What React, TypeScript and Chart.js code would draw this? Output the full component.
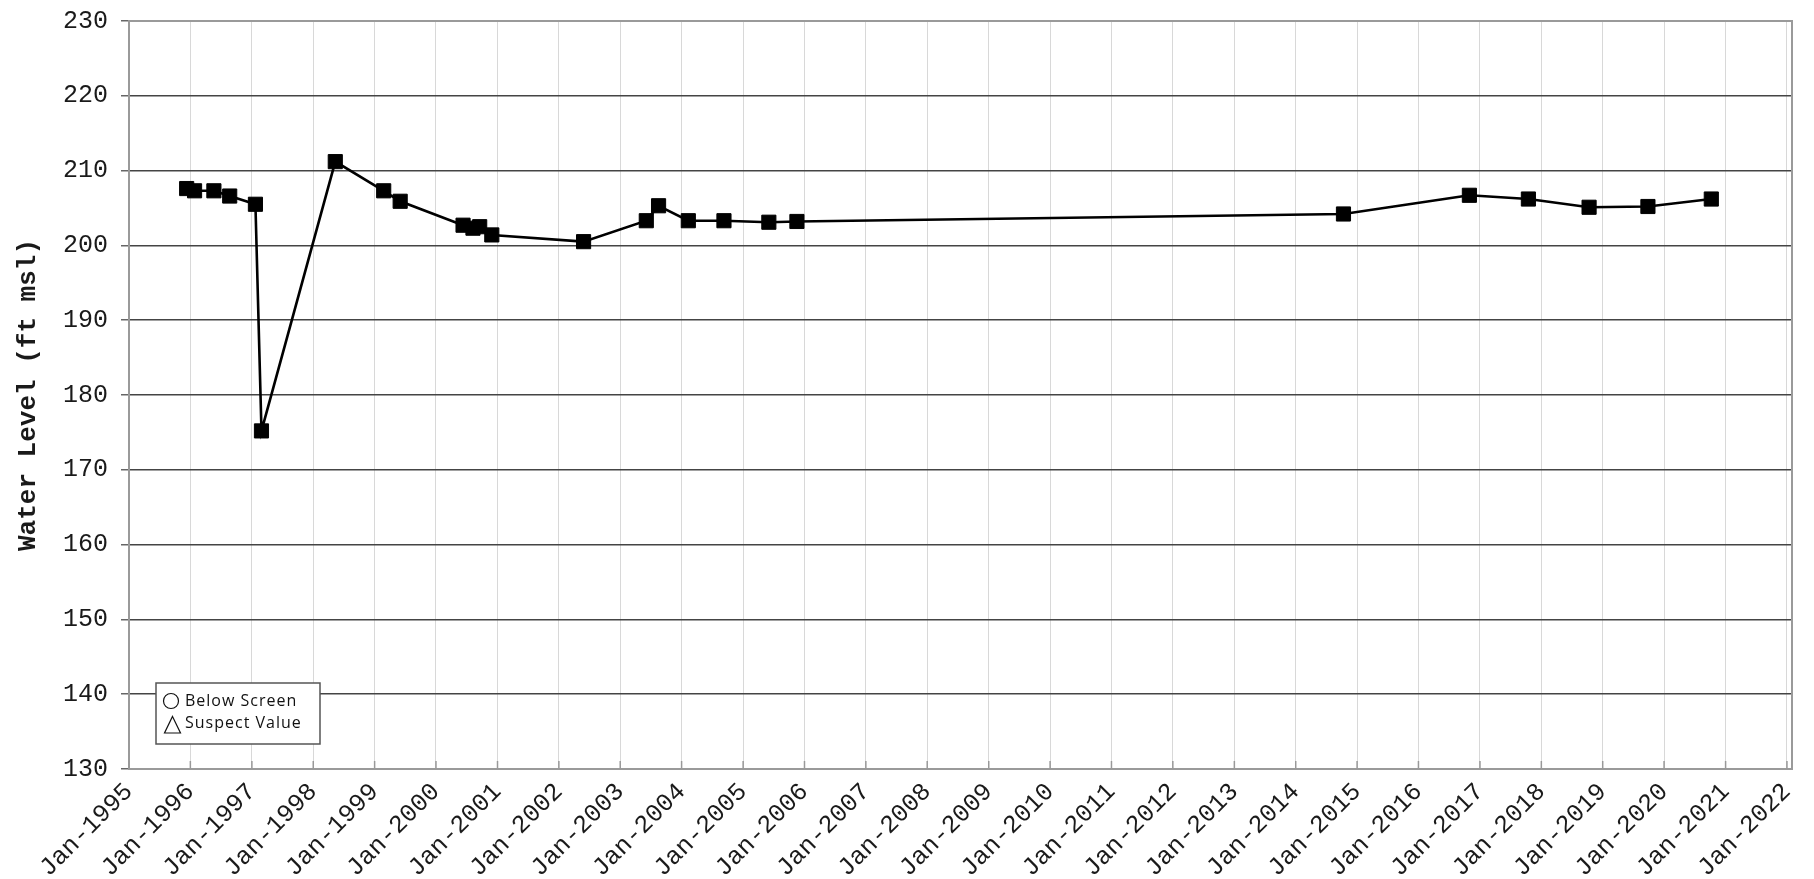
import React, { useEffect, useRef } from "react";
import { Chart, registerables } from "chart.js";

Chart.register(...registerables);

// ---- Data ----
const sampleDates: string[] = [
  "1995-12-10", "1996-01-26", "1996-05-20", "1996-08-22", "1997-01-22",
  "1997-02-27", "1998-05-12", "1999-02-24", "1999-06-02", "2000-06-10",
  "2000-08-08", "2000-09-17", "2000-11-28", "2002-05-28", "2003-06-05",
  "2003-08-17", "2004-02-10", "2004-09-09", "2005-06-03", "2005-11-17",
  "2014-10-12", "2016-10-30", "2017-10-16", "2018-10-12", "2019-09-27",
  "2020-10-08",
];
const waterLevels: number[] = [
  207.6, 207.3, 207.3, 206.6, 205.5,
  175.2, 211.2, 207.3, 205.9, 202.7,
  202.3, 202.5, 201.4, 200.5, 203.3,
  205.3, 203.3, 203.3, 203.1, 203.2,
  204.2, 206.7, 206.2, 205.1, 205.2,
  206.2,
];
const tickYears: number[] = [
  1995, 1996, 1997, 1998, 1999, 2000, 2001, 2002, 2003, 2004, 2005, 2006, 2007, 2008,
  2009, 2010, 2011, 2012, 2013, 2014, 2015, 2016, 2017, 2018, 2019, 2020, 2021, 2022,
];
const yAxisTitle = "Water Level (ft msl)";
const legendLabels: string[] = ["Below Screen", "Suspect Value"];
const yMin = 130;
const yMax = 230;
const yStep = 10;

const toTime = (s: string): number => {
  const [y, m, d] = s.split("-").map(Number);
  return Date.UTC(y, m - 1, d);
};

const MONO = '"Liberation Mono", "DejaVu Sans Mono", monospace';

const framePlugin = {
  id: "frameAndTicks",
  beforeDatasetsDraw(chart: any) {
    const { ctx, chartArea } = chart;
    const { left, top, right, bottom } = chartArea;
    ctx.save();
    const xs = chart.scales.x;
    ctx.strokeStyle = "#999";
    ctx.lineWidth = 1.5;
    xs.ticks.forEach((t: any) => {
      const px = xs.getPixelForValue(t.value);
      ctx.beginPath();
      ctx.moveTo(px, bottom);
      ctx.lineTo(px, bottom - 8);
      ctx.stroke();
    });
    ctx.strokeStyle = "#9a9a9a";
    ctx.lineWidth = 2;
    ctx.beginPath();
    ctx.moveTo(left, top);
    ctx.lineTo(right, top);
    ctx.lineTo(right, bottom);
    ctx.stroke();
    ctx.restore();
  },
};

const legendPlugin = {
  id: "symbolLegend",
  afterDatasetsDraw(chart: any) {
    const { ctx, chartArea } = chart;
    const bx = chartArea.left + 27;
    const by = chartArea.bottom - 86;
    const bw = 164;
    const bh = 61;
    ctx.save();
    ctx.fillStyle = "#fff";
    ctx.fillRect(bx, by, bw, bh);
    ctx.strokeStyle = "#555";
    ctx.lineWidth = 1.5;
    ctx.strokeRect(bx, by, bw, bh);

    ctx.strokeStyle = "#111";
    ctx.lineWidth = 1.2;
    ctx.beginPath();
    ctx.arc(bx + 15, by + 18, 7.5, 0, Math.PI * 2);
    ctx.stroke();
    ctx.beginPath();
    ctx.moveTo(bx + 16.5, by + 33.5);
    ctx.lineTo(bx + 24.5, by + 50);
    ctx.lineTo(bx + 8.5, by + 50);
    ctx.closePath();
    ctx.stroke();

    ctx.fillStyle = "#111";
    ctx.font = '16px "Open Sans", "Noto Sans", sans-serif';
    try {
      (ctx as any).letterSpacing = "1px";
    } catch (e) {}
    ctx.textAlign = "left";
    ctx.textBaseline = "middle";
    ctx.fillText(legendLabels[0], bx + 29, by + 18);
    ctx.fillText(legendLabels[1], bx + 29, by + 40);
    ctx.restore();
  },
};

export default function App() {
  const canvasRef = useRef<HTMLCanvasElement | null>(null);

  useEffect(() => {
    if (!canvasRef.current) return;
    const points = sampleDates.map((d, i) => ({ x: toTime(d), y: waterLevels[i] }));
    const xMin = Date.UTC(tickYears[0], 0, 1);
    const xMax = Date.UTC(tickYears[tickYears.length - 1], 0, 31);

    const chart = new Chart(canvasRef.current, {
      type: "line",
      data: {
        datasets: [
          {
            label: "Water Level",
            data: points,
            borderColor: "#000",
            backgroundColor: "#000",
            borderWidth: 2.6,
            tension: 0,
            pointStyle: "rect",
            pointRadius: 10,
            pointBorderWidth: 1,
            pointBackgroundColor: "#000",
            pointBorderColor: "#000",
          },
        ],
      },
      options: {
        animation: false,
        responsive: false,
        layout: { padding: { left: 0, top: 21, right: 22, bottom: 0 } },
        plugins: {
          legend: { display: false },
          tooltip: { enabled: false },
          title: { display: false },
        },
        scales: {
          x: {
            type: "linear",
            min: xMin,
            max: xMax,
            afterBuildTicks: (scale: any) => {
              scale.ticks = tickYears.map((y) => ({ value: Date.UTC(y, 0, 1) }));
            },
            afterFit: (scale: any) => {
              scale.height = 110;
              scale.paddingLeft = 0;
              scale.paddingRight = 0;
            },
            grid: { color: "#d8d8d8", lineWidth: 1, drawTicks: false },
            border: { color: "#9a9a9a", width: 2 },
            ticks: {
              autoSkip: false,
              maxRotation: 45,
              minRotation: 45,
              padding: 8,
              color: "#1a1a1a",
              font: { family: MONO, size: 25 },
              callback: (v: any) => "Jan-" + new Date(Number(v)).getUTCFullYear(),
            },
          },
          y: {
            type: "linear",
            min: yMin,
            max: yMax,
            afterFit: (scale: any) => {
              scale.width = 129;
              scale.paddingTop = 0;
              scale.paddingBottom = 0;
            },
            grid: { color: "#444", lineWidth: 1.5, tickLength: 8, tickColor: "#666" },
            border: { color: "#9a9a9a", width: 2 },
            ticks: {
              stepSize: yStep,
              padding: 13,
              color: "#1a1a1a",
              font: { family: MONO, size: 25 },
            },
            title: {
              display: true,
              text: yAxisTitle,
              color: "#1a1a1a",
              font: { family: MONO, size: 26, weight: "bold" },
              padding: { top: 13, bottom: 0 },
            },
          },
        },
      },
      plugins: [framePlugin, legendPlugin],
    });
    return () => chart.destroy();
  }, []);

  return (
    <div style={{ position: "absolute", left: 0, top: 0, width: 1814, height: 879, background: "#fff" }}>
      <canvas ref={canvasRef} width={1814} height={879} style={{ display: "block" }} />
    </div>
  );
}
